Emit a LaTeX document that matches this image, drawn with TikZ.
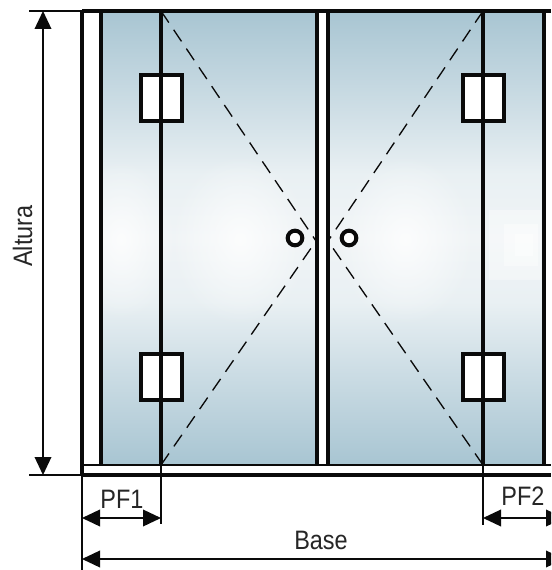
\documentclass[tikz,border=0pt]{standalone}
\usepackage{fontspec}
\setmainfont[FakeStretch=0.88]{Liberation Sans}
\usetikzlibrary{arrows.meta,fadings}
\definecolor{glA}{HTML}{A8C5D2}
\definecolor{glB}{HTML}{CBDCE4}
\definecolor{glC}{HTML}{E9F0F3}
\definecolor{glD}{HTML}{F0F4F6}
\definecolor{inkc}{HTML}{0A0A0A}
\pgfdeclareverticalshading{glass}{100bp}{
 color(0bp)=(glA); color(25bp)=(glA); color(35bp)=(glB); color(43bp)=(glC); color(50bp)=(glD);
 color(57bp)=(glC); color(65bp)=(glB); color(75bp)=(glA); color(100bp)=(glA)}
\tikzfading[name=spot, inner color=transparent!0, outer color=transparent!100]
\tikzset{
 wall/.style={draw=inkc,line width=2.9pt},
 thinl/.style={draw=inkc,line width=1.5pt},
 extl/.style={draw=inkc,line width=1.5pt},
 diag/.style={draw=inkc,line width=1pt,dash pattern=on 10.5pt off 6.5pt},
 hinge/.style={draw=inkc,fill=white,line width=3pt,rectangle,minimum width=31pt,minimum height=34.5pt,inner sep=0pt},
 knob/.style={draw=inkc,fill=white,line width=3pt,circle,minimum size=11pt,inner sep=0pt},
 dim/.style={draw=inkc,line width=1.1pt,{Triangle[length=13.5pt,width=12.5pt]}-{Triangle[length=13.5pt,width=12.5pt]},shorten <=0pt,shorten >=0pt},
 lbl/.style={text=black!85,font=\fontsize{20pt}{22pt}\selectfont,inner sep=0pt},
 spotf/.style={white,path fading=spot,opacity=.8}
}
\begin{document}
\begin{tikzpicture}[x=0.75pt,y=-0.75pt]
\useasboundingbox (0,0) rectangle (551,570);
\clip (0,0) rectangle (551,570);
\fill[white] (0,0) rectangle (551,570);
% glass
\shade[shading=glass] (101,11) rectangle (317,465);
\shade[shading=glass] (328,11) rectangle (544,465);
\begin{scope}
\clip (101,11) rectangle (317,465);
\fill[spotf] (121,240) ellipse (55 and 80);
\fill[spotf] (240,240) ellipse (70 and 85);
\end{scope}
\begin{scope}
\clip (328,11) rectangle (544,465);
\fill[spotf] (405,240) ellipse (70 and 85);
\fill[white,opacity=.35] (489,210) rectangle (541,280);
\fill[white,opacity=.4] (504,224) rectangle (538,266);
\fill[white,opacity=.4] (515,234) rectangle (533,256);
\end{scope}
% named points
\coordinate (tl) at (82,11);
\coordinate (bl) at (82,475);
\coordinate (tr) at (551,11);
\coordinate (br) at (551,475);
\coordinate (h1t) at (161,11);
\coordinate (h1b) at (161,465);
\coordinate (h2t) at (483,11);
\coordinate (h2b) at (483,465);
\coordinate (cL) at (316,241);
\coordinate (cR) at (328,241);
\coordinate (altT) at (43,11);
\coordinate (altB) at (43,475);
\coordinate (extTa) at (29,11);
\coordinate (extBa) at (29,475);
\coordinate (ext1) at (161,524);
\coordinate (ext2) at (483,525);
\coordinate (ext0) at (82,570);
\coordinate (p1a) at (82,518);
\coordinate (p1b) at (161,518);
\coordinate (p2a) at (483,518);
\coordinate (p2b) at (564,518);
\coordinate (baa) at (82,559);
\coordinate (bab) at (564,559);
% diagonals
\draw[diag] (h1t) -- (cL);
\draw[diag] (h1b) -- (cL);
\draw[diag] (h2t) -- (cR);
\draw[diag] (h2b) -- (cR);
% frame
\draw[thinl] (82,465) -- (551,465);
\draw[wall] (101,11) -- (101,465);
\draw[wall] (317,11) -- (317,465);
\draw[wall] (328,11) -- (328,465);
\draw[wall] (544,11) -- (544,465);
% hinges
\node[hinge] (ha) at (161.5,98.5) {};
\node[hinge] (hb) at (161.5,376.5) {};
\node[hinge] (hc) at (483.5,98.5) {};
\node[hinge] (hd) at (483.5,376.5) {};
\draw[wall] (h1t) -- (h1b);
\draw[wall] (h2t) -- (h2b);
\draw[wall] (tl) -- (tr);
\draw[wall] (bl) -- (br);
\draw[wall] (tl) -- (bl);
% knobs
\node[knob] (ka) at (295,238) {};
\node[knob] (kb) at (349,238) {};
% dimensions
\draw[extl] (extTa) -- (tl);
\draw[extl] (extBa) -- (bl);
\draw[extl] (bl) -- (ext0);
\draw[extl] (h1b) -- (ext1);
\draw[extl] (h2b) -- (ext2);
\draw[dim] (altT) -- (altB);
\draw[dim] (p1a) -- (p1b);
\draw[dim] (p2a) -- (p2b);
\draw[dim] (baa) -- (bab);
\node[lbl,rotate=90] (t1) at (22.5,236) {Altura};
\node[lbl] (t2) at (122,499) {PF1};
\node[lbl] (t3) at (523,496) {PF2};
\node[lbl] (t4) at (321,540.5) {Base};
\end{tikzpicture}
\end{document}
